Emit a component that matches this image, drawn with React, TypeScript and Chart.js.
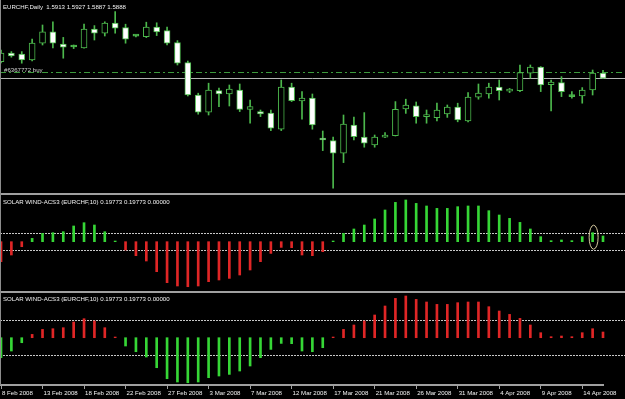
import React, { useEffect, useRef } from "react";
import { Chart, registerables } from "chart.js";

Chart.register(...registerables);

const FONT = '"Liberation Sans", Arial, sans-serif';

// ---- categories (daily bars, broker with Sunday sessions) ----
const dates = [
  "8 Feb 2008", "10 Feb 2008", "11 Feb 2008", "12 Feb 2008", "13 Feb 2008", "14 Feb 2008", "15 Feb 2008", "17 Feb 2008", "18 Feb 2008", "19 Feb 2008",
  "20 Feb 2008", "21 Feb 2008", "22 Feb 2008", "24 Feb 2008", "25 Feb 2008", "26 Feb 2008", "27 Feb 2008", "28 Feb 2008", "29 Feb 2008", "2 Mar 2008",
  "3 Mar 2008", "4 Mar 2008", "5 Mar 2008", "6 Mar 2008", "7 Mar 2008", "9 Mar 2008", "10 Mar 2008", "11 Mar 2008", "12 Mar 2008", "13 Mar 2008",
  "14 Mar 2008", "16 Mar 2008", "17 Mar 2008", "18 Mar 2008", "19 Mar 2008", "20 Mar 2008", "21 Mar 2008", "23 Mar 2008", "24 Mar 2008", "25 Mar 2008",
  "26 Mar 2008", "27 Mar 2008", "28 Mar 2008", "30 Mar 2008", "31 Mar 2008", "1 Apr 2008", "2 Apr 2008", "3 Apr 2008", "4 Apr 2008", "6 Apr 2008",
  "7 Apr 2008", "8 Apr 2008", "9 Apr 2008", "10 Apr 2008", "11 Apr 2008", "13 Apr 2008", "14 Apr 2008", "15 Apr 2008", "16 Apr 2008",
];
const tickEvery = 4;

// ---- EURCHF daily OHLC ----
const opens = [
  1.5971, 1.6013, 1.6009, 1.5979, 1.6063, 1.6120, 1.6059, 1.6044, 1.6040, 1.6133,
  1.6113, 1.6163, 1.6141, 1.6098, 1.6096, 1.6143, 1.6126, 1.6066, 1.5966, 1.5804,
  1.5718, 1.5826, 1.5809, 1.5829, 1.5732, 1.5721, 1.5713, 1.5633, 1.5843, 1.5774,
  1.5788, 1.5588, 1.5576, 1.5513, 1.5654, 1.5593, 1.5554, 1.5593, 1.5601, 1.5734,
  1.5750, 1.5696, 1.5691, 1.5709, 1.5743, 1.5675, 1.5793, 1.5809, 1.5843, 1.5823,
  1.5826, 1.5913, 1.5943, 1.5856, 1.5866, 1.5796, 1.5799, 1.5829, 1.5913,
];
const highs = [
  1.6029, 1.6021, 1.6021, 1.6084, 1.6154, 1.6170, 1.6092, 1.6054, 1.6158, 1.6151,
  1.6170, 1.6221, 1.6158, 1.6104, 1.6168, 1.6165, 1.6143, 1.6076, 1.5974, 1.5813,
  1.5863, 1.5838, 1.5854, 1.5859, 1.5779, 1.5729, 1.5729, 1.5879, 1.5863, 1.5821,
  1.5809, 1.5624, 1.5593, 1.5704, 1.5693, 1.5716, 1.5604, 1.5616, 1.5771, 1.5783,
  1.5769, 1.5729, 1.5763, 1.5754, 1.5763, 1.5816, 1.5859, 1.5863, 1.5879, 1.5837,
  1.5954, 1.5954, 1.5946, 1.5879, 1.5896, 1.5821, 1.5841, 1.5929, 1.5927,
];
const lows = [
  1.5964, 1.5993, 1.5963, 1.5974, 1.6054, 1.6040, 1.5988, 1.6036, 1.6038, 1.6079,
  1.6099, 1.6113, 1.6063, 1.6094, 1.6091, 1.6101, 1.6054, 1.5954, 1.5799, 1.5708,
  1.5704, 1.5746, 1.5749, 1.5721, 1.5663, 1.5696, 1.5626, 1.5626, 1.5771, 1.5683,
  1.5633, 1.5526, 1.5338, 1.5466, 1.5579, 1.5543, 1.5543, 1.5591, 1.5599, 1.5712,
  1.5663, 1.5663, 1.5674, 1.5692, 1.5670, 1.5670, 1.5783, 1.5788, 1.5779, 1.5816,
  1.5821, 1.5888, 1.5821, 1.5724, 1.5796, 1.5788, 1.5763, 1.5804, 1.5887,
];
const closes = [
  1.6013, 1.5999, 1.5979, 1.6063, 1.6120, 1.6063, 1.6043, 1.6044, 1.6133, 1.6113,
  1.6163, 1.6138, 1.6083, 1.6099, 1.6143, 1.6120, 1.6063, 1.5963, 1.5804, 1.5718,
  1.5829, 1.5810, 1.5833, 1.5732, 1.5746, 1.5709, 1.5638, 1.5843, 1.5776, 1.5788,
  1.5654, 1.5579, 1.5513, 1.5659, 1.5596, 1.5563, 1.5593, 1.5604, 1.5732, 1.5754,
  1.5696, 1.5698, 1.5729, 1.5743, 1.5679, 1.5793, 1.5813, 1.5843, 1.5826, 1.5834,
  1.5916, 1.5943, 1.5854, 1.5868, 1.5821, 1.5797, 1.5829, 1.5913, 1.5888,
];

// ---- SOLAR WIND-ACS3 histogram ----
const windValues = [
  -0.694, -0.462, -0.174, 0.115, 0.288, 0.312, 0.347, 0.545, 0.659, 0.579,
  0.347, 0.024, -0.288, -0.486, -0.670, -1.041, -1.423, -1.537, -1.562, -1.537,
  -1.388, -1.329, -1.273, -1.156, -0.982, -0.694, -0.406, -0.198, -0.208, -0.462,
  -0.486, -0.347, 0.024, 0.288, 0.441, 0.579, 0.788, 1.100, 1.364, 1.447,
  1.329, 1.239, 1.156, 1.156, 1.215, 1.239, 1.239, 1.076, 0.926, 0.809,
  0.670, 0.441, 0.174, 0.035, 0.059, 0.035, 0.174, 0.312, 0.19773,
];
const windLevelsUpper = [0.3, -0.3];
const windLevelsLower = [0.6, -0.6];
const highlightIndex = 57;

const symbolTitle = "EURCHF,Daily  1.5913 1.5927 1.5887 1.5888";
const indicatorTitle = "SOLAR WIND-ACS3 (EURCHF,10) 0.19773 0.19773 0.00000";
const bidPrice = 1.5888;
const orderPrice = 1.5921;
const orderLabel = "#6367772 buy";

// ---- styles ----
const CANDLE = "#4cb84c";
const GREEN = "#36d636";
const RED = "#e02626";
const PAD = { left: 1, right: 22, top: 0, bottom: 0 };

type HLine = { value: number; color: string; dash: number[]; label?: string };

function overlay(opts: { title: string; titleY: number; lines: HLine[]; ellipse?: boolean }) {
  return {
    id: "overlay",
    beforeDatasetsDraw(chart: any) {
      const ctx = chart.ctx as CanvasRenderingContext2D;
      const y = chart.scales.y;
      ctx.save();
      for (const l of opts.lines) {
        const py = Math.round(y.getPixelForValue(l.value)) + 0.5;
        ctx.strokeStyle = l.color;
        ctx.lineWidth = 1;
        ctx.setLineDash(l.dash);
        ctx.beginPath();
        ctx.moveTo(0, py);
        ctx.lineTo(chart.width, py);
        ctx.stroke();
        if (l.label) {
          ctx.setLineDash([]);
          ctx.fillStyle = "#d0d0d0";
          ctx.font = `6.1px ${FONT}`;
          ctx.textBaseline = "alphabetic";
          ctx.fillText(l.label, 4, py - 1);
        }
      }
      ctx.restore();
    },
    afterDatasetsDraw(chart: any) {
      const ctx = chart.ctx as CanvasRenderingContext2D;
      ctx.save();
      ctx.fillStyle = "#f2f2f2";
      ctx.font = `6.1px ${FONT}`;
      ctx.textBaseline = "alphabetic";
      ctx.fillText(opts.title, 3, opts.titleY);
      if (opts.ellipse) {
        const x = chart.scales.x.getPixelForValue(highlightIndex);
        const yTop = chart.scales.y.getPixelForValue(windValues[highlightIndex]) - 7.5;
        const yBot = chart.scales.y.getPixelForValue(0) + 7.5;
        ctx.strokeStyle = "#d6caa0";
        ctx.lineWidth = 1;
        ctx.beginPath();
        ctx.ellipse(x + 1, (yTop + yBot) / 2, 4.5, (yBot - yTop) / 2, 0, 0, Math.PI * 2);
        ctx.stroke();
      }
      ctx.restore();
    },
  };
}

function priceConfig(): any {
  const bodyColors = opens.map((o, i) =>
    Math.abs(closes[i] - o) < 0.00015 ? CANDLE : closes[i] > o ? "#000000" : "#ffffff"
  );
  return {
    type: "bar",
    data: {
      labels: dates,
      datasets: [
        {
          data: dates.map((_, i) => [lows[i], highs[i]]),
          backgroundColor: CANDLE,
          barThickness: 1,
          grouped: false,
          order: 2,
          clip: false,
        },
        {
          data: dates.map((_, i) => [opens[i], closes[i]]),
          backgroundColor: bodyColors,
          borderColor: CANDLE,
          borderWidth: 1,
          borderSkipped: false,
          barThickness: 6,
          minBarLength: 2,
          grouped: false,
          order: 1,
          clip: false,
        },
      ],
    },
    options: {
      animation: false,
      responsive: false,
      events: [],
      layout: { padding: PAD },
      plugins: { legend: { display: false }, tooltip: { enabled: false } },
      scales: {
        x: { display: false, offset: false, grid: { offset: false } },
        y: { display: false, min: 1.5314, max: 1.6279 },
      },
    },
    plugins: [
      overlay({
        title: symbolTitle,
        titleY: 9,
        lines: [
          { value: orderPrice, color: "#3c9a3c", dash: [6, 3, 2, 3], label: orderLabel },
          { value: bidPrice, color: "#b4b4b4", dash: [] },
        ],
      }),
    ],
  };
}

function windConfig(inverted: boolean): any {
  const up = inverted ? RED : GREEN;
  const down = inverted ? GREEN : RED;
  const levels = inverted ? windLevelsLower : windLevelsUpper;
  const xAxis = inverted
    ? {
        offset: false,
        position: "bottom",
        border: { display: true, color: "#a0a0a0", width: 2 },
        grid: {
          display: true,
          offset: false,
          drawOnChartArea: false,
          drawTicks: true,
          tickLength: 4,
          color: "#a0a0a0",
          lineWidth: 1,
        },
        ticks: {
          color: "#f2f2f2",
          font: { size: 6.1, family: FONT },
          align: "start",
          padding: 1,
          labelOffset: 1,
          maxRotation: 0,
          minRotation: 0,
          autoSkip: false,
        },
        afterBuildTicks: (axis: any) => {
          axis.ticks = axis.ticks.filter((t: any) => t.value % tickEvery === 0);
        },
        afterFit: (axis: any) => {
          axis.height = 14;
          axis.paddingLeft = 0;
          axis.paddingRight = 0;
        },
      }
    : { display: false, offset: false, grid: { offset: false } };
  return {
    type: "bar",
    data: {
      labels: dates,
      datasets: [
        {
          data: windValues,
          backgroundColor: windValues.map((v) => (v >= 0 ? up : down)),
          barThickness: 2,
          clip: false,
        },
      ],
    },
    options: {
      animation: false,
      responsive: false,
      events: [],
      layout: { padding: PAD },
      plugins: { legend: { display: false }, tooltip: { enabled: false } },
      scales: {
        x: xAxis,
        y: inverted
          ? { display: false, min: -1.641, max: 1.551 }
          : { display: false, min: -1.711, max: 1.62 },
      },
    },
    plugins: [
      overlay({
        title: indicatorTitle,
        titleY: inverted ? 8 : 8.5,
        lines: levels.map((v) => ({ value: v, color: "#c8c8c8", dash: [2, 1] })),
        ellipse: !inverted,
      }),
    ],
  };
}

export default function App() {
  const c1 = useRef<HTMLCanvasElement>(null);
  const c2 = useRef<HTMLCanvasElement>(null);
  const c3 = useRef<HTMLCanvasElement>(null);

  useEffect(() => {
    document.body.style.margin = "0";
    const charts: Chart[] = [];
    if (c1.current) charts.push(new Chart(c1.current, priceConfig()));
    if (c2.current) charts.push(new Chart(c2.current, windConfig(false)));
    if (c3.current) charts.push(new Chart(c3.current, windConfig(true)));
    return () => charts.forEach((c) => c.destroy());
  }, []);

  const abs = (top: number): React.CSSProperties => ({ position: "absolute", left: 0, top, display: "block" });

  return (
    <div style={{ position: "absolute", left: 0, top: 0, width: 625, height: 399, background: "#000", overflow: "hidden" }}>
      <canvas ref={c1} width={625} height={193} style={abs(0)} />
      <div style={{ position: "absolute", left: 0, top: 193, width: 625, height: 2, background: "#a0a0a0" }} />
      <canvas ref={c2} width={625} height={96} style={abs(195)} />
      <div style={{ position: "absolute", left: 0, top: 291, width: 625, height: 2, background: "#a0a0a0" }} />
      <canvas ref={c3} width={625} height={106} style={abs(293)} />
      <div style={{ position: "absolute", left: 0, top: 0, width: 1, height: 385, background: "#8c8c8c" }} />
    </div>
  );
}
